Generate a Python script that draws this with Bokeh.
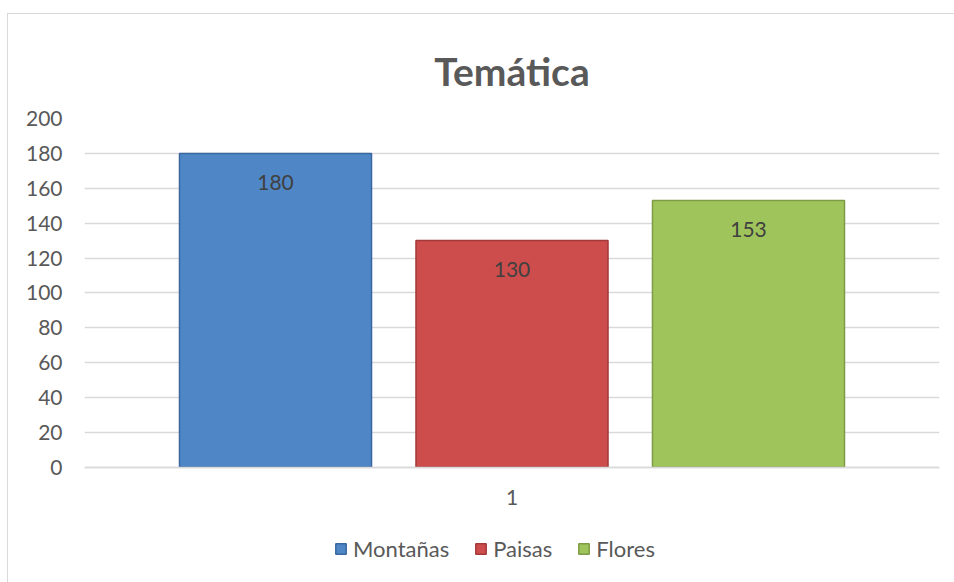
from bokeh.plotting import figure
from bokeh.models import (FactorRange, Range1d, Legend, LegendItem,
                          ColumnDataSource)
from bokeh.transform import dodge
from bokeh.embed import file_html
from bokeh.resources import INLINE
from bokeh.core.properties import value

# ---- data ----
categories = ["1"]
series = ["Montañas", "Paisas", "Flores"]
values = [180, 130, 153]
y_ticks = [0, 20, 40, 60, 80, 100, 120, 140, 160, 180, 200]
title_text = "Temática"

# ---- styles ----
fills = ["#4f86c6", "#cd4d4c", "#a0c45c"]
edges = ["#3a679f", "#a33a39", "#7e9c45"]
offsets = [-0.2766, 0.0, 0.2766]
bar_w = 0.2246
FONT = "Lato"
TXT = "#595959"

p = figure(x_range=FactorRange(factors=categories, range_padding=0),
           y_range=Range1d(-66, 200),
           frame_width=855, frame_height=464,
           output_backend="svg", toolbar_location=None,
           min_border_left=76, min_border_right=15,
           min_border_top=104, min_border_bottom=0,
           margin=(14, 0, 0, 8))
p.styles = {"outline": "1px solid #d9d9d9"}
p.outline_line_color = None
p.background_fill_color = "white"
p.border_fill_color = "white"

p.title.text = title_text
p.title.align = "center"
p.title.text_font = FONT
p.title.text_font_size = "39px"
p.title.text_font_style = "bold"
p.title.text_color = TXT
p.title.standoff = 50
p.title.offset = 4

items = []
for i, name in enumerate(series):
    src = ColumnDataSource(dict(x=categories, top=[values[i]],
                                lab=[str(values[i])]))
    r = p.vbar(x=dodge("x", offsets[i], range=p.x_range), top="top",
               width=bar_w, bottom=0, source=src,
               fill_color=fills[i], line_color=edges[i], line_width=1.5)
    p.text(x=dodge("x", offsets[i], range=p.x_range), y="top", text="lab",
           source=src, text_align="center", text_baseline="middle",
           y_offset=29, text_font=value(FONT), text_font_size="21px",
           text_color="#404040")
    items.append(LegendItem(label=name, renderers=[r]))

# axes
p.yaxis.ticker = y_ticks
p.yaxis.axis_line_color = None
p.yaxis.major_tick_line_color = None
p.yaxis.minor_tick_line_color = None
p.yaxis.major_label_text_font = FONT
p.yaxis.major_label_text_font_size = "21px"
p.yaxis.major_label_text_color = TXT
p.yaxis.major_label_standoff = 16

p.xaxis.fixed_location = 0
p.xaxis.axis_line_color = "#d9d9d9"
p.xaxis.axis_line_width = 1.5
p.xaxis.major_tick_line_color = None
p.xaxis.minor_tick_line_color = None
p.xaxis.major_label_text_font = FONT
p.xaxis.major_label_text_font_size = "21px"
p.xaxis.major_label_text_color = TXT
p.xaxis.major_label_standoff = 17

p.xgrid.grid_line_color = None
p.ygrid.grid_line_color = "#d9d9d9"
p.ygrid.grid_line_width = 1.5

legend = Legend(items=items, orientation="horizontal", location=(250, 20),
                glyph_width=13, glyph_height=13, label_standoff=6,
                spacing=25, padding=0, margin=0, border_line_color=None,
                background_fill_alpha=0,
                label_text_font=FONT, label_text_font_size="22px",
                label_text_color=TXT)
p.add_layout(legend, "center")

open("out.html", "w").write(file_html(p, INLINE))
